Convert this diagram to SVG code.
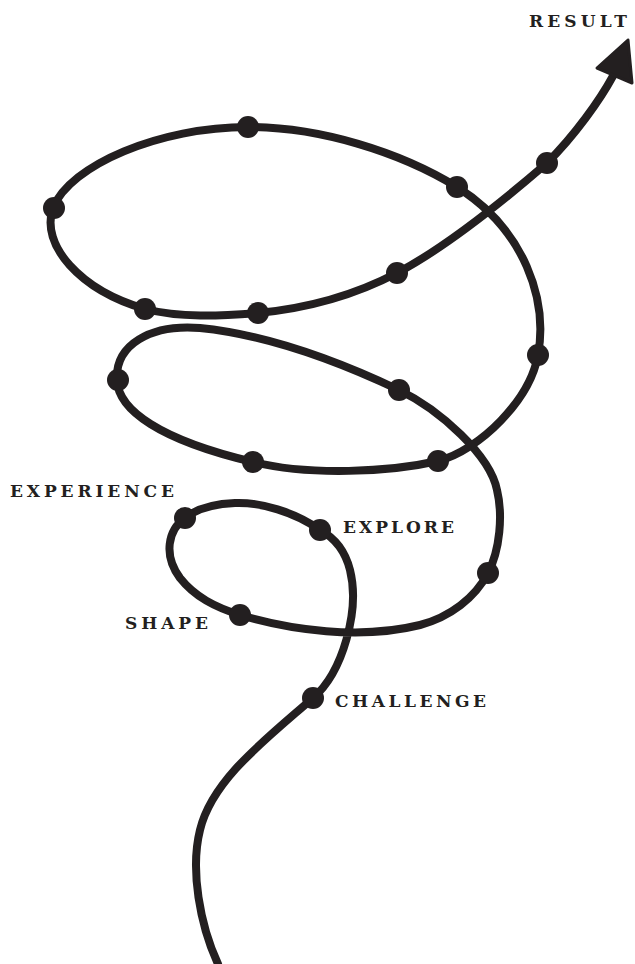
<svg xmlns="http://www.w3.org/2000/svg" width="635" height="964" viewBox="0 0 635 964">
<style>
.line{fill:none;stroke:#231f20;stroke-width:8;stroke-linecap:round;stroke-linejoin:round}
.dot{fill:#231f20}
.lbl{font-family:"DejaVu Serif","Liberation Serif",serif;font-weight:bold;font-size:17px;fill:#231f20}
.head{fill:#231f20;stroke:#231f20;stroke-width:3;stroke-linejoin:round}
</style>
<rect width="635" height="964" fill="#ffffff"/>
<g id="connectors">
<path class="line" d="M218,964 C200,925 190,870 200,830 C212,780 265,740 313,698 C343,672 360,610 350,570 C345,550 333,537 320,530 C295,512 260,502 235,503 C210,504 195,510 185,518 C168,530 163,555 180,578 C195,597 215,607 240,615 C290,630 360,640 420,625 C450,617 475,598 488,573 C500,550 503,515 497,490 C490,455 440,410 399,390 C340,362 270,335 200,328 C150,324 115,345 117,380 C118,410 160,440 253,462 C310,476 390,472 438,461 C480,450 530,400 538,355 C548,300 525,230 457,187 C400,152 320,127 248,127 C160,127 70,165 53,208 C40,245 80,290 145,309 C180,318 220,316 258,313 C310,308 355,295 397,273 C450,245 510,195 547,163 C575,135 600,100 613,76"/>
<polygon class="head" points="628,40 597,68 632,83"/>
</g>
<g id="node-challenge"><circle class="dot" cx="313" cy="698" r="11"/><text class="lbl" x="335" y="707" textLength="151" lengthAdjust="spacing">CHALLENGE</text></g>
<g id="node-explore"><circle class="dot" cx="320" cy="530" r="11"/><text class="lbl" x="343" y="533" textLength="111" lengthAdjust="spacing">EXPLORE</text></g>
<g id="node-experience"><circle class="dot" cx="185" cy="518" r="11"/><text class="lbl" x="10" y="497" textLength="164" lengthAdjust="spacing">EXPERIENCE</text></g>
<g id="node-shape"><circle class="dot" cx="240" cy="615" r="11"/><text class="lbl" x="125" y="629" textLength="83" lengthAdjust="spacing">SHAPE</text></g>
<g id="node-5"><circle class="dot" cx="488" cy="573" r="11"/></g>
<g id="node-6"><circle class="dot" cx="399" cy="390" r="11"/></g>
<g id="node-7"><circle class="dot" cx="118" cy="380" r="11"/></g>
<g id="node-8"><circle class="dot" cx="253" cy="462" r="11"/></g>
<g id="node-9"><circle class="dot" cx="438" cy="461" r="11"/></g>
<g id="node-10"><circle class="dot" cx="538" cy="355" r="11"/></g>
<g id="node-11"><circle class="dot" cx="457" cy="187" r="11"/></g>
<g id="node-12"><circle class="dot" cx="248" cy="127" r="11"/></g>
<g id="node-13"><circle class="dot" cx="54" cy="208" r="11"/></g>
<g id="node-14"><circle class="dot" cx="145" cy="309" r="11"/></g>
<g id="node-15"><circle class="dot" cx="258" cy="313" r="11"/></g>
<g id="node-16"><circle class="dot" cx="397" cy="273" r="11"/></g>
<g id="node-17"><circle class="dot" cx="547" cy="163" r="11"/></g>
<g id="node-result"><text class="lbl" x="529" y="27" textLength="98" lengthAdjust="spacing">RESULT</text></g>
</svg>
